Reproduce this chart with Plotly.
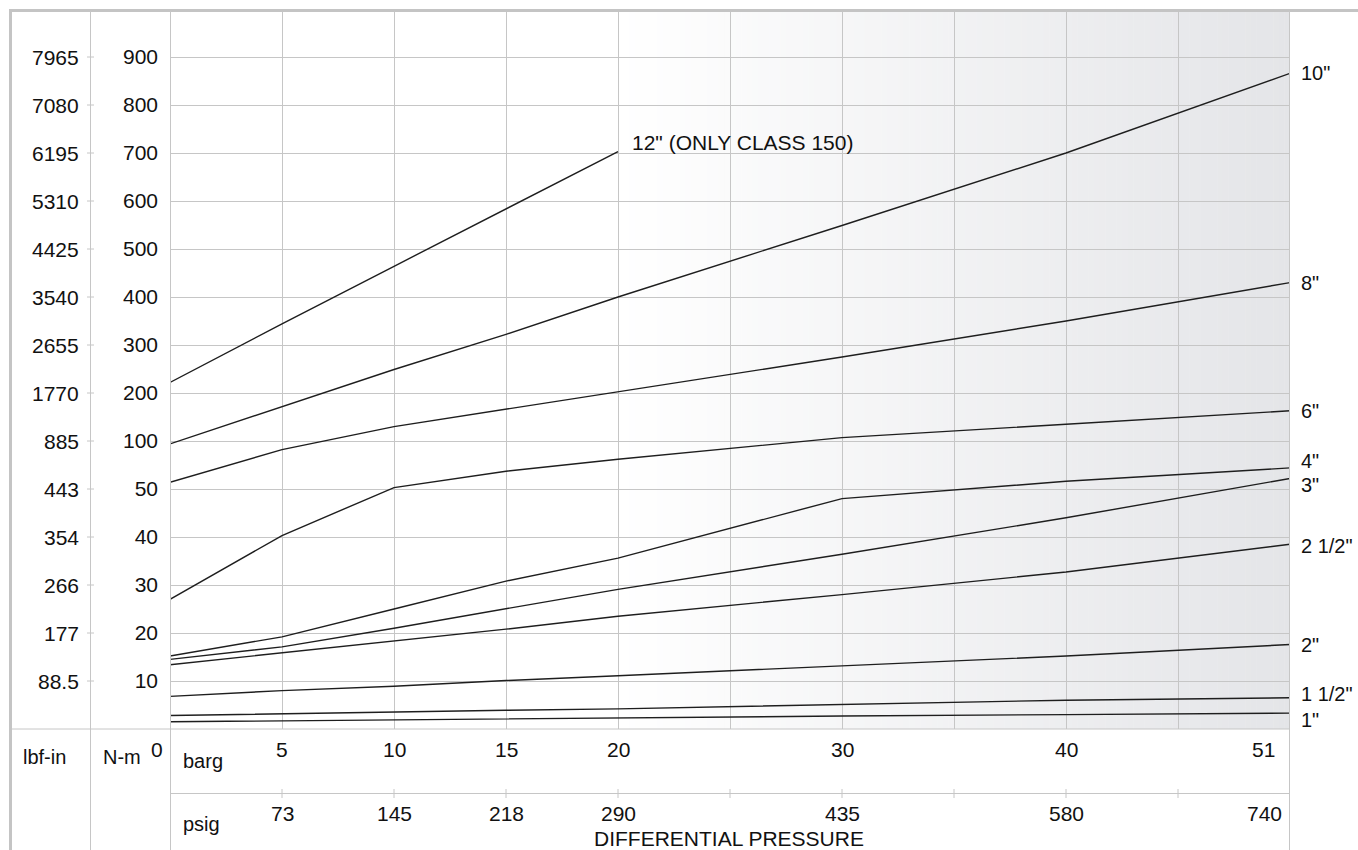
import numpy as np
import plotly.graph_objects as go

# ---------------- data ----------------
BARG = [0, 5, 10, 15, 20, 30, 40, 50]
BARG_12 = [0, 5, 10, 15, 20]

BARG_LABEL_POS = [5, 10, 15, 20, 30, 40, 50]
BARG_LABELS = ["5", "10", "15", "20", "30", "40", "51"]
PSIG_LABELS = ["73", "145", "218", "290", "435", "580", "740"]

NM_TICKS = [0, 10, 20, 30, 40, 50, 100, 200, 300, 400, 500, 600, 700, 800, 900]
LBF_LABELS = ["", "88.5", "177", "266", "354", "443", "885", "1770", "2655",
              "3540", "4425", "5310", "6195", "7080", "7965"]

SIZE_12 = [222, 344, 464, 584, 703]
SIZE_10 = [97, 172, 249, 322, 400, 549, 700, 866]
SIZE_8 = [57, 91, 130, 166, 203, 275, 350, 430]
SIZE_6 = [27, 40.3, 51.5, 68.5, 81, 107, 135, 163]
SIZE_4 = [15.2, 19.2, 25.0, 30.8, 35.6, 48.0, 58, 72]
SIZE_3 = [14.5, 17.1, 21.0, 25.0, 29.1, 36.4, 44.0, 61]
SIZE_2_5 = [13.4, 15.9, 18.3, 20.8, 23.5, 28.0, 32.7, 38.5]
SIZE_2 = [6.8, 8.0, 8.9, 10.1, 11.1, 13.2, 15.2, 17.6]
SIZE_1_5 = [2.8, 3.2, 3.5, 3.9, 4.2, 5.1, 6.0, 6.5]
SIZE_1 = [1.5, 1.7, 2.0, 2.2, 2.25, 2.7, 3.0, 3.3]

SERIES = [
    ('10"', SIZE_10, 0),
    ('8"', SIZE_8, 0),
    ('6"', SIZE_6, 0),
    ('4"', SIZE_4, 7),
    ('3"', SIZE_3, -7),
    ('2 1/2"', SIZE_2_5, -2),
    ('2"', SIZE_2, 0),
    ('1 1/2"', SIZE_1_5, 4),
    ('1"', SIZE_1, -7),
]

# ---------------- layout geometry ----------------
W, H = 1358, 850
ML, MR, MT, MB = 170, 68, 11, 121
PW = W - ML - MR
PH = H - MT - MB
STEP = 48.0  # px per tick band
YMAX = PH / STEP


def to_axis(vals):
    return np.interp(vals, NM_TICKS, list(range(len(NM_TICKS))))


def pxx(x):
    return (x - ML) / PW


def pxy(y):
    return (H - MB - y) / PH


FONT = "Liberation Sans, Arial, Helvetica, sans-serif"
FS = 21      # digits / capitals
FS_LOW = 20  # lowercase captions
FS_LBL = 20  # curve labels
TXT = "#111111"
LINE_COLOR = "#1e1e1e"
GRID = "#c6c6c6"
FRAME = "#c4c4c4"

fig = go.Figure()

# curves
fig.add_trace(go.Scatter(x=BARG_12, y=to_axis(SIZE_12), mode="lines",
                         line=dict(color=LINE_COLOR, width=1.4),
                         hoverinfo="skip", showlegend=False))
for name, vals, _ in SERIES:
    fig.add_trace(go.Scatter(x=BARG, y=to_axis(vals), mode="lines",
                             line=dict(color=LINE_COLOR, width=1.4),
                             name=name, hoverinfo="skip", showlegend=False))

shapes = []
# gradient background (20 -> 50 barg)
N = 120
c0 = np.array([255, 255, 255])
c1 = np.array([228, 229, 232])
for i in range(N):
    t = (i + 0.5) / N
    c = (c0 + (c1 - c0) * t).round().astype(int)
    x0 = 20 + 30 * i / N
    x1 = 20 + 30 * (i + 1) / N + 0.02
    shapes.append(dict(type="rect", xref="x", yref="paper", x0=x0, x1=min(x1, 50),
                       y0=0, y1=1, layer="below", line=dict(width=0),
                       fillcolor=f"rgb({c[0]},{c[1]},{c[2]})"))


def pline(x0, y0, x1, y1, color=GRID, width=1):
    shapes.append(dict(type="line", xref="paper", yref="paper",
                       x0=pxx(x0), y0=pxy(y0), x1=pxx(x1), y1=pxy(y1),
                       line=dict(color=color, width=width), layer="above"))


# frame
pline(9, 10.5, W, 10.5, FRAME, 3)
pline(10.5, 9, 10.5, H, FRAME, 3)
pline(90.5, 11, 90.5, H)
pline(170.5, 11, 170.5, H)
pline(1289.5, 11, 1289.5, H)
pline(11, H - MB, 1289.5, H - MB)
pline(170.5, 793.5, 1289.5, 793.5)
# tick marks on the psig separator
for xv in range(5, 50, 5):
    shapes.append(dict(type="line", xref="x", yref="paper", x0=xv, x1=xv,
                       y0=pxy(789), y1=pxy(798), line=dict(color=GRID, width=1)))
# tick marks on lbf-in column line
for k in range(1, len(NM_TICKS)):
    shapes.append(dict(type="line", xref="paper", yref="y", x0=pxx(87), x1=pxx(94),
                       y0=k, y1=k, line=dict(color=GRID, width=1)))

annotations = []


def ptext(x, y, text, xanchor="left", size=FS):
    annotations.append(dict(xref="paper", yref="paper", x=pxx(x), y=pxy(y),
                            text=text, showarrow=False, xanchor=xanchor,
                            yanchor="middle", font=dict(family=FONT, size=size, color=TXT)))


# lbf-in column labels
for k, lab in enumerate(LBF_LABELS):
    if lab:
        annotations.append(dict(xref="paper", yref="y", x=pxx(81), y=k, text=lab,
                                showarrow=False, xanchor="right", yanchor="middle",
                                font=dict(family=FONT, size=FS, color=TXT)))

ptext(21, 757, "lbf-in", size=FS_LOW)
ptext(101, 757, "N-m", size=FS_LOW)
ptext(157, 749, "0", xanchor="center")
ptext(181, 761, "barg", size=FS_LOW)
ptext(181, 824, "psig", size=FS_LOW)
ptext(729, 838, "DIFFERENTIAL PRESSURE", xanchor="center")

for xv, bl, pl in zip(BARG_LABEL_POS, BARG_LABELS, PSIG_LABELS):
    last = xv == BARG_LABEL_POS[-1]
    annotations.append(dict(xref="x", yref="paper", x=xv, y=pxy(749), text=bl,
                            showarrow=False, xanchor="right" if last else "center",
                            yanchor="middle", xshift=-13 if last else 0,
                            font=dict(family=FONT, size=FS, color=TXT)))
    annotations.append(dict(xref="x", yref="paper", x=xv, y=pxy(813), text=pl,
                            showarrow=False, xanchor="right" if last else "center",
                            yanchor="middle", xshift=-6 if last else 0,
                            font=dict(family=FONT, size=FS, color=TXT)))

# curve labels
annotations.append(dict(x=BARG_12[-1], y=float(to_axis([SIZE_12[-1]])[0]),
                        text='12" (ONLY CLASS 150)', showarrow=False,
                        xanchor="left", yanchor="middle", xshift=12, yshift=9,
                        font=dict(family=FONT, size=FS, color=TXT)))
for name, vals, ys in SERIES:
    annotations.append(dict(x=BARG[-1], y=float(to_axis([vals[-1]])[0]), text=name,
                            showarrow=False, xanchor="left", yanchor="middle",
                            xshift=9, yshift=ys,
                            font=dict(family=FONT, size=FS_LBL, color=TXT)))

fig.update_layout(
    width=W, height=H,
    margin=dict(l=ML, r=MR, t=MT, b=MB, pad=0),
    paper_bgcolor="white", plot_bgcolor="white",
    showlegend=False,
    font=dict(family=FONT, size=FS, color=TXT),
    xaxis=dict(range=[0, 50], tick0=0, dtick=5, showgrid=True, gridcolor=GRID,
               gridwidth=1.2, showticklabels=False, ticks="", zeroline=False,
               showline=False, fixedrange=True),
    yaxis=dict(range=[0, YMAX], tickmode="array", tickvals=list(range(len(NM_TICKS))),
               ticktext=[""] + [str(v) for v in NM_TICKS[1:]],
               showgrid=True, gridcolor=GRID, gridwidth=1.2, ticks="",
               ticklabelstandoff=11, zeroline=False, showline=False, fixedrange=True,
               tickfont=dict(family=FONT, size=FS, color=TXT)),
    shapes=shapes,
    annotations=annotations,
)

fig.write_html("out.html",
               config={"displayModeBar": False},
               post_script="document.body.style.margin='0px';"
                           "document.body.style.overflow='hidden';")
